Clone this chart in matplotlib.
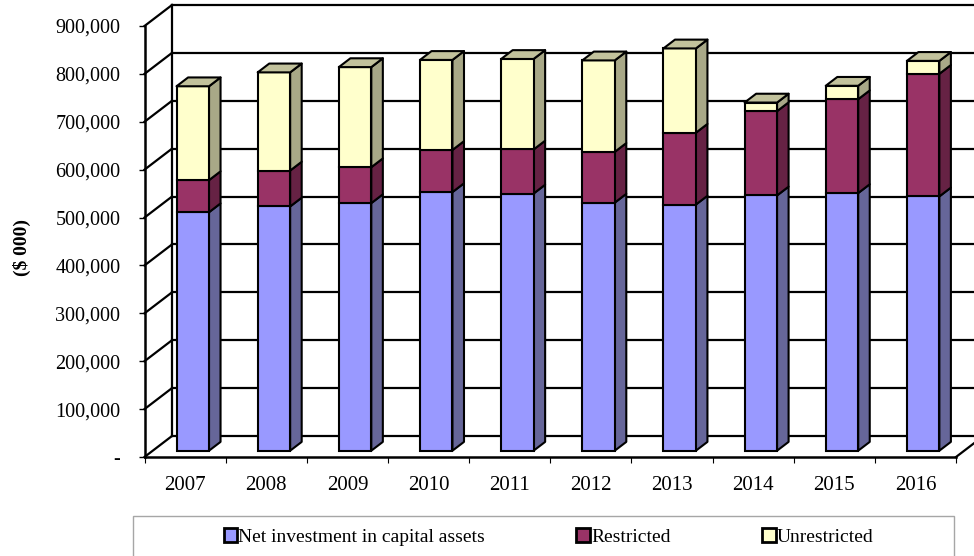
import matplotlib
matplotlib.use("Agg")
import matplotlib.pyplot as plt
from matplotlib.patches import Polygon, Rectangle

years = ["2007", "2008", "2009", "2010", "2011", "2012", "2013", "2014", "2015", "2016"]
net_investment = [498000, 510000, 517000, 540000, 537000, 518000, 514000, 533000, 538000, 531000]
restricted = [67000, 75000, 75000, 88000, 92000, 106000, 150000, 176000, 196000, 256000]
unrestricted = [196000, 205000, 209000, 188000, 189000, 191000, 176000, 18000, 28000, 27000]
y_ticks = [0, 100000, 200000, 300000, 400000, 500000, 600000, 700000, 800000, 900000]

W, H = 974, 556
# fake 3D depth of the chart box, in data units
DX, DY = 27.5 / 81.2, 21 / 47.9 * 100000
BAR_W = 0.4
D_FRONT, D_BACK = 0.28, 0.7
EDGE = 1.5
GRID = 1.6

series = [
    (net_investment, "#9999FF", "#666699", "Net investment in capital assets"),
    (restricted, "#993366", "#662244", "Restricted"),
    (unrestricted, "#FFFFCC", "#A8A887", "Unrestricted"),
]
TOP_COLOR = "#C2C29C"

plt.rcParams["font.family"] = ["Liberation Serif", "DejaVu Serif"]

fig = plt.figure(figsize=(W / 100, H / 100), dpi=100)
ax = fig.add_axes([144.5 / W, 1 - 457 / H, (956 - 144.5) / W, (457 - 26) / H])
ax.patch.set_visible(False)
ax.set_xlim(0, len(years))
ax.set_ylim(0, 900000)


def shift(x, y, d):
    return x + d * DX, y + d * DY


# back wall, side wall and floor
for v in y_ticks:
    ax.plot([DX, len(years) + DX], [v + DY, v + DY], color="black", lw=GRID, clip_on=False, zorder=1)
    ax.plot([0, DX], [v, v + DY], color="black", lw=GRID, clip_on=False, zorder=1)
ax.plot([DX, DX], [DY, 900000 + DY], color="black", lw=GRID, clip_on=False, zorder=1)
ax.plot([len(years), len(years) + DX], [0, DY], color="black", lw=GRID, clip_on=False, zorder=1)

# stacked bars with their side and top faces
bottoms = [0] * len(years)
for values, color, side, label in series:
    xs = [i + 0.5 + D_FRONT * DX for i in range(len(years))]
    ax.bar(xs, values, BAR_W, bottom=[b + 0.3 * DY for b in bottoms], color=color,
           edgecolor="black", linewidth=EDGE, clip_on=False, zorder=3, label=label)
    for i, (b, v) in enumerate(zip(bottoms, values)):
        x1 = i + 0.5 + BAR_W / 2
        corners = [(x1 + D_FRONT * DX, b + 0.3 * DY), (x1 + D_BACK * DX, b + 0.72 * DY),
                   (x1 + D_BACK * DX, b + v + 0.72 * DY), (x1 + D_FRONT * DX, b + v + 0.3 * DY)]
        ax.add_patch(Polygon(corners, facecolor=side, edgecolor="black", lw=EDGE,
                             joinstyle="round", clip_on=False, zorder=2.5))
    bottoms = [b + v for b, v in zip(bottoms, values)]

# top faces of the stack
for i, total in enumerate(bottoms):
    x0, x1 = i + 0.5 - BAR_W / 2, i + 0.5 + BAR_W / 2
    corners = [(x0 + D_FRONT * DX, total + 0.3 * DY), (x1 + D_FRONT * DX, total + 0.3 * DY),
               (x1 + D_BACK * DX, total + 0.72 * DY), (x0 + D_BACK * DX, total + 0.72 * DY)]
    ax.add_patch(Polygon(corners, facecolor=TOP_COLOR, edgecolor="black", lw=EDGE,
                         joinstyle="round", clip_on=False, zorder=3.5))

for s in ("top", "right"):
    ax.spines[s].set_visible(False)
for s in ("left", "bottom"):
    ax.spines[s].set_linewidth(1.8)
    ax.spines[s].set_zorder(4)

ax.set_yticks(y_ticks)
ax.set_yticklabels(["-" if v == 0 else f"{v:,}" for v in y_ticks])
ax.tick_params(axis="y", length=4.3, width=1, pad=13, labelsize=14.5)
ax.set_xticks(range(len(years) + 1))
ax.set_xticklabels([])
ax.tick_params(axis="x", which="major", length=4.3, width=0.8)
ax.set_xticks([i + 0.5 for i in range(len(years))], minor=True)
ax.set_xticklabels(years, minor=True)
ax.tick_params(axis="x", which="minor", length=0, pad=14, labelsize=15)

fig.text(22 / W, 1 - 248 / H, "($ 000)", rotation=90, fontsize=14, fontweight="bold",
         ha="center", va="center")

# legend box runs off the bottom of the picture
fig.add_artist(Rectangle((133 / W, 1 - 580 / H), (954 - 133) / W, (580 - 516) / H,
                         transform=fig.transFigure, facecolor="white", edgecolor="#A6A6A6", lw=1))
handles, labels = ax.get_legend_handles_labels()
leg = fig.legend(handles, labels, ncol=3, frameon=False, loc="center",
                 bbox_to_anchor=(548.5 / W, 1 - 537 / H), fontsize=14,
                 handlelength=0.7, handleheight=0.7, handletextpad=0.05, columnspacing=4.7)
for h in leg.legend_handles:
    h.set_linewidth(2)

fig.savefig("out.png", dpi=100)
